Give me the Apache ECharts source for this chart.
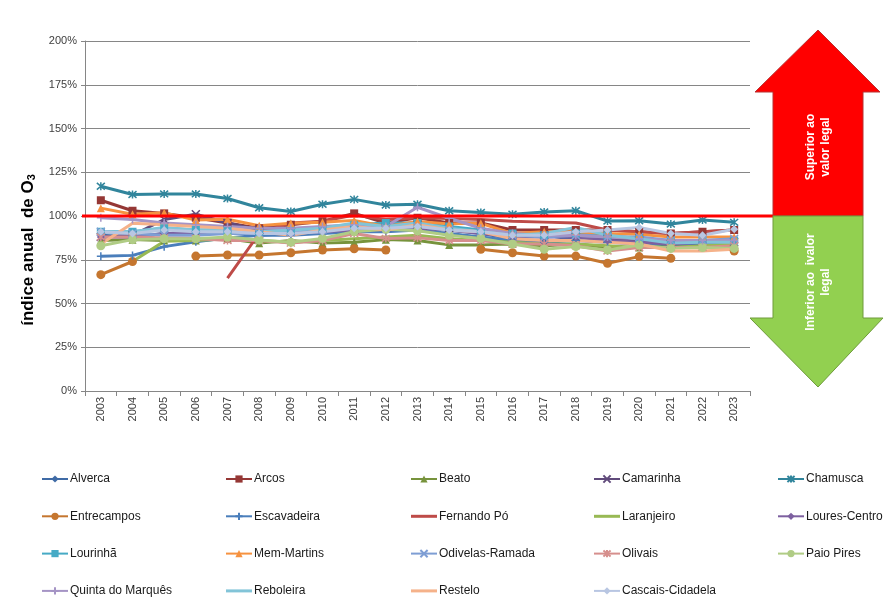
<!DOCTYPE html>
<html><head><meta charset="utf-8">
<script src="https://cdn.jsdelivr.net/npm/echarts@6/dist/echarts.min.js"></script>
<style>html,body{margin:0;padding:0;background:#fff}#c{width:885px;height:603px}</style>
</head><body><div id="c"></div>
<script>
const years = ['2003','2004','2005','2006','2007','2008','2009','2010','2011','2012','2013','2014','2015','2016','2017','2018','2019','2020','2021','2022','2023'];
const yTicks = [0,25,50,75,100,125,150,175,200];
const legalValue = 100;

const alverca      = [89, 88, 90, 90, 91, 89, 90, 91, 92, 92, 93, 92, 90, 87, 85, 88, 87, 85, 84, 85, 86];
const arcos        = [109, 103, 101.5, 99, 96, 93, 95, 97, 101.5, 96, 99, 96, 96, 92, 92, 92, 92, 91, 90, 91, 92];
const beato        = [86, 86.5, 86, 86, 87, 84.5, 86, 84.5, 85, 86.5, 86, 83.5, 83.5, 84, 83, 84, 82, 82, 83, 84, 84];
const camarinha    = [88, 89, 98, 101, 96, 92, 91, 92, 92, 93, 95, 93, 91, 89, 89, 88, 87, 86, 84, 84, 85];
const chamusca     = [117, 112.3, 112.6, 112.6, 110, 104.7, 102.6, 106.7, 109.5, 106.3, 106.7, 103, 102, 101, 102.3, 103, 97.1, 97.3, 95.4, 97.7, 96.4];
const entrecampos  = [66.5, 74, null, 77.1, 77.7, 77.7, 79, 80.6, 81.3, 80.6, null, null, 81, 79, 77.1, 77.1, 73, 76.8, 75.8, null, 80];
const escavadeira  = [77, 77.5, 82.5, 85.3, 87.5, 89, 89, 90, 91, 91, 92, 90, 88, 86, 85, 86, 85, 84, 84, 84, 85];
const fernandoPo   = [null, null, null, null, 64.5, 90, 96, 97, 100.5, 98, 99, 98.5, 98, 97, 96.5, 96, 92, 91, 90, 91, 92];
const laranjeiro   = [null, 74, 85.5, 86, 87, 86, 85, 86, 87, 88, 89, 87, 86, 85, 84, 84, 83, 82, 82, 83, 84];
const louresCentro = [88, 88, 90, 90, 91, 90, 90, 91, 92, 92, 93, 92, 90, 88, 88, 88, 86, 85, 84, 85, 86];
const lourinha     = [91, 91, 93, 92, 92, 91, 92, 93, 95, 96, 96, 94, 92, 90, 89, 90, 89, 87, 86, 86, 86];
const memMartins   = [104.5, 101, 101.8, 97.7, 98.1, 94.5, 95.8, 96.4, 97.5, 94, 96.8, 95.5, 95.8, 90, 91, 91, 90, 89.5, 88, 88, 88];
const odivelas     = [91, 90, 89, 89, 90, 90, 91, 92, 93, 93, 94, 92, 91, 89, 88, 89, 88, 88, 86, 86, 87];
const olivais      = [88, 88, 87.5, 87.2, 86, 86, 84.5, 86, 90, 87.2, 87.5, 86, 86, 84, 84, 83, 80, 82, 82, 82, 83];
const paioPires    = [83, 86.5, 87, 87, 88, 86.3, 85, 87.2, 91, 92.4, 91.6, 89, 87.2, 84, 81, 82.5, 80.6, 83.4, 81.5, 82, 81.5];
const quintaMarques= [99, 98, 96, 95, 94, 93, 93, 94, 95, 94, 105, 98.7, 93, 90, 89, 89, 88, 87, 86, 86, 86];
const reboleira    = [91, 91, 93.5, 92, 92, 91, 92, 93, 96, 94, 96, 93, 91, 89, 90, 93.5, 89, 87, 84.5, 85, 85];
const restelo      = [84, 95.8, 95, 94, 93, 91, 89, 92, 94, 92, 95, 92, 91, 87, 86, 86, 85, 84, 80, 80, 81];
const cascais      = [91, 90, 92, 91, 91, 90, 90, 91, 93, 93, 94, 92, 91, 89, 89, 91, 92, 93.5, 90, 89, 92.4];

const SYM_X = 'path://M0,0L10,10M10,0L0,10';
const SYM_STAR = 'path://M0,0L10,10M10,0L0,10M5,-1L5,11';
const SYM_PLUS = 'path://M5,0L5,10M0,5L10,5';
const LINE_ICON = 'path://M0,0L26,0L26,3L0,3Z';

const defs = [
  ['Alverca', alverca, '#3F6BA6', 'diamond'],
  ['Arcos', arcos, '#953735', 'rect'],
  ['Beato', beato, '#77933C', 'triangle'],
  ['Camarinha', camarinha, '#604A7B', SYM_X],
  ['Chamusca', chamusca, '#31859C', SYM_STAR],
  ['Entrecampos', entrecampos, '#C5762F', 'circle'],
  ['Escavadeira', escavadeira, '#4A7EBB', SYM_PLUS],
  ['Fernando Pó', fernandoPo, '#BE4B48', 'none'],
  ['Laranjeiro', laranjeiro, '#98B954', 'none'],
  ['Loures-Centro', louresCentro, '#7D60A0', 'diamond'],
  ['Lourinhã', lourinha, '#46AAC5', 'rect'],
  ['Mem-Martins', memMartins, '#F69240', 'triangle'],
  ['Odivelas-Ramada', odivelas, '#7E9ED4', SYM_X],
  ['Olivais', olivais, '#D68F8D', SYM_STAR],
  ['Paio Pires', paioPires, '#B0CC85', 'circle'],
  ['Quinta do Marquês', quintaMarques, '#A594C5', SYM_PLUS],
  ['Reboleira', reboleira, '#82C4D8', 'none'],
  ['Restelo', restelo, '#F5B28A', 'none'],
  ['Cascais-Cidadela', cascais, '#B8C6E2', 'diamond']
];
const noMarker = new Set(defs.filter(d => d[3] === 'none').map(d => d[0]));

const columns = [
  ['Alverca','Entrecampos','Lourinhã','Quinta do Marquês'],
  ['Arcos','Escavadeira','Mem-Martins','Reboleira'],
  ['Beato','Fernando Pó','Odivelas-Ramada','Restelo'],
  ['Camarinha','Laranjeiro','Olivais','Cascais-Cidadela'],
  ['Chamusca','Loures-Centro','Paio Pires']
];
const colLeft = [41, 225, 410, 593, 777];

const FONT = 'Liberation Sans';

const series = defs.map(([name, data, color, sym]) => {
  const isPath = sym.indexOf('path://') === 0;
  return {
    name, type: 'line', data,
    symbol: sym,
    symbolSize: isPath ? 8 : (sym === 'circle' ? 9 : 8),
    showSymbol: sym !== 'none',
    connectNulls: false,
    lineStyle: { color, width: 3 },
    itemStyle: { color, borderColor: color, borderWidth: isPath ? 1.5 : 0 },
    emphasis: { disabled: true },
    animation: false
  };
});

const legends = columns.map((names, i) => ({
  type: 'plain',
  orient: 'vertical',
  left: colLeft[i],
  top: 472,
  padding: 0,
  height: 200,
  width: 180,
  itemWidth: 26,
  itemHeight: 9,
  itemGap: 23.3,
  symbolKeepAspect: true,
  data: names.map(n => noMarker.has(n) ? { name: n, icon: LINE_ICON } : n),
  selectedMode: false,
  textStyle: { fontFamily: FONT, fontSize: 12, lineHeight: 14, height: 14, color: '#1a1a1a', padding: [0,0,0,-3] }
}));

const chart = echarts.init(document.getElementById('c'), null, { renderer: 'canvas' });
chart.setOption({
  animation: false,
  backgroundColor: '#fff',
  grid: { left: 85, right: 135, top: 41, bottom: 212 },
  legend: legends,
  xAxis: {
    type: 'category', data: years, boundaryGap: true,
    axisLine: { lineStyle: { color: '#868686' } },
    axisTick: { show: true, alignWithLabel: false, length: 5, lineStyle: { color: '#868686' } },
    axisLabel: { rotate: 90, fontFamily: FONT, fontSize: 11, color: '#404040', margin: 6 }
  },
  yAxis: {
    type: 'value', min: yTicks[0], max: yTicks[yTicks.length-1], interval: 25,
    axisLine: { show: true, lineStyle: { color: '#868686' } },
    axisTick: { show: true, length: 4, inside: false, lineStyle: { color: '#868686' } },
    axisLabel: { formatter: '{value}%', fontFamily: FONT, fontSize: 11, color: '#404040', margin: 8 },
    splitLine: { lineStyle: { color: '#868686', width: 1 } }
  },
  series
});

const yLegal = chart.convertToPixel({ yAxisIndex: 0 }, legalValue);
chart.setOption({
  graphic: [
    { type: 'line', z: 100, shape: { x1: 82, y1: yLegal, x2: 800, y2: yLegal },
      style: { stroke: '#FF0000', lineWidth: 3 } },
    { type: 'polygon', z: 101,
      shape: { points: [[773,yLegal],[773,92],[755,92],[818,30],[880,92],[863,92],[863,yLegal]] },
      style: { fill: '#FF0000', stroke: '#B83030', lineWidth: 1 } },
    { type: 'polygon', z: 101,
      shape: { points: [[773,yLegal],[863,yLegal],[863,318],[883,318],[818,387],[750,318],[773,318]] },
      style: { fill: '#92D050', stroke: '#6E9B3A', lineWidth: 1 } },
    { type: 'text', z: 102, x: 818, y: 147, rotation: Math.PI/2,
      style: { text: 'Superior ao\nvalor legal', fill: '#fff', font: 'bold 12px "Liberation Sans"', align: 'center', verticalAlign: 'middle', lineHeight: 15 } },
    { type: 'text', z: 102, x: 818, y: 282, rotation: Math.PI/2,
      style: { text: 'Inferior ao  ivalor\nlegal', fill: '#fff', font: 'bold 12px "Liberation Sans"', align: 'center', verticalAlign: 'middle', lineHeight: 15 } },
    { type: 'text', z: 102, x: 28, y: 250, rotation: Math.PI/2,
      style: { text: 'índice anual  de O{s|3}', fill: '#000', font: 'bold 17px "Liberation Sans"', align: 'center', verticalAlign: 'middle',
        rich: { s: { font: 'bold 11px "Liberation Sans"', verticalAlign: 'bottom', padding: [8,0,0,0] } } } }
  ]
});
</script></body></html>
